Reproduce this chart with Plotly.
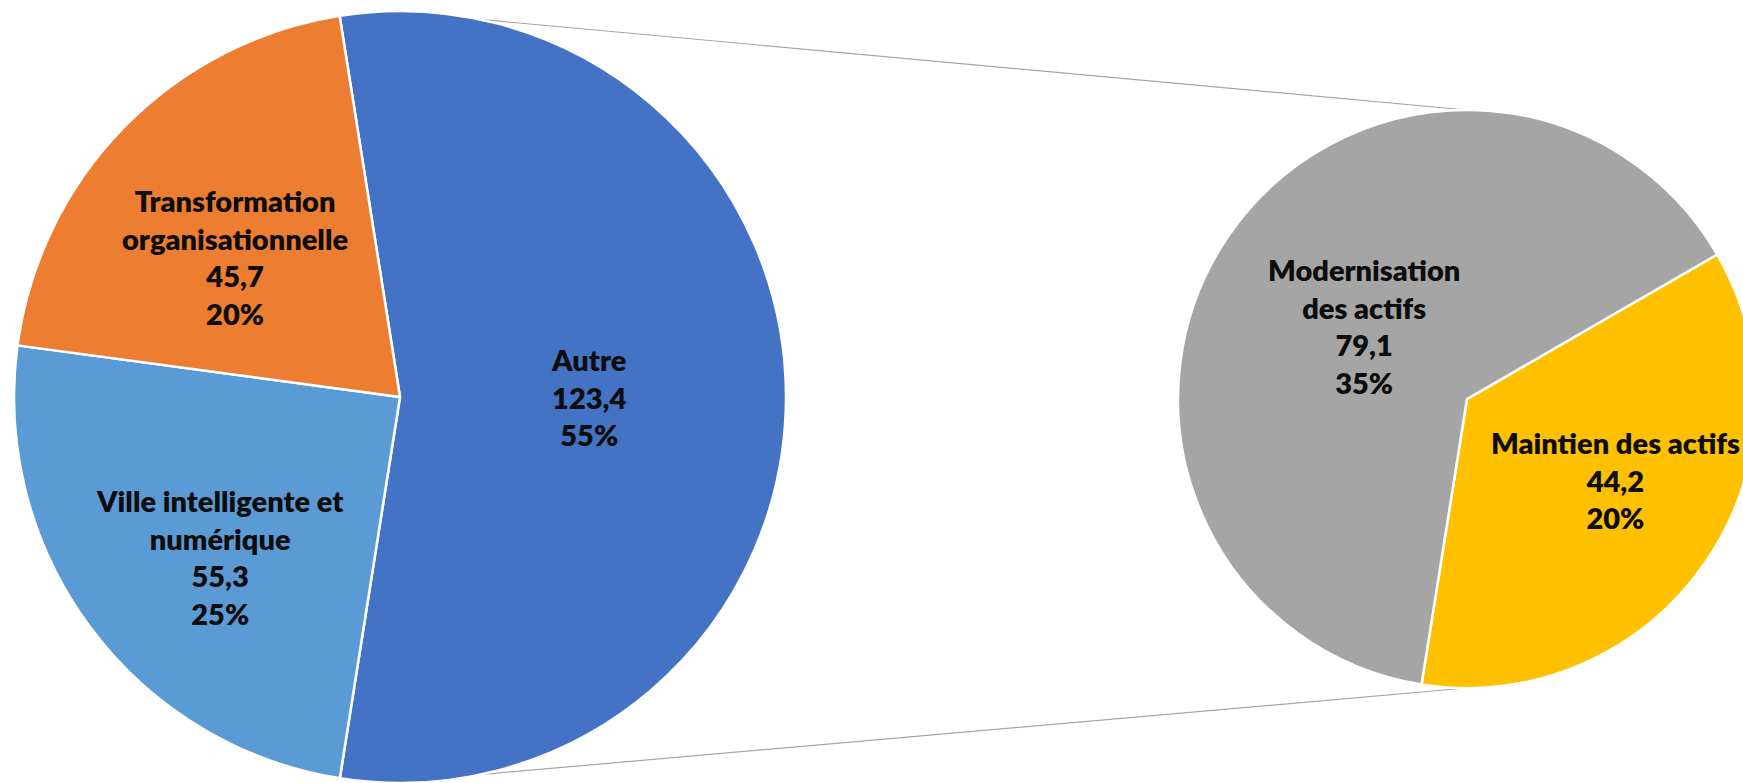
import math
import plotly.graph_objects as go

# ---- data ----
main_labels = ["Autre", "Ville intelligente et<br>numérique", "Transformation<br>organisationnelle"]
main_values = [123.4, 55.3, 45.7]
main_colors = ["#4472C4", "#5B9BD5", "#ED7D31"]

sub_labels = ["Maintien des actifs", "Modernisation<br>des actifs"]
sub_values = [44.2, 79.1]
sub_colors = ["#FFC000", "#A5A5A5"]

total = sum(main_values)

# ---- layout geometry (style) ----
W, H = 1760, 783
L_CX, L_CY, L_R = 400, 397, 386      # pixels, y from top
R_CX, R_CY, R_R = 1467, 399, 289
L_ROT, R_ROT = -9, 60
main_fracs = [0.49, 0.624, 0.562]
main_dang = [0, -5, -4]
sub_fracs = [0.585, 0.436]
sub_dang = [-6, 1]
FONT = "Lato"
FSIZE = 29


def dom(cx, cy, r):
    return dict(x=[(cx - r) / W, (cx + r) / W], y=[(H - cy - r) / H, (H - cy + r) / H])


def fmt(v):
    return f"{v:.1f}".replace(".", ",")


fig = go.Figure()
fig.add_trace(go.Pie(
    labels=main_labels, values=main_values, sort=False, direction="clockwise",
    rotation=L_ROT, domain=dom(L_CX, L_CY, L_R), textinfo="none", hoverinfo="label+value",
    marker=dict(colors=main_colors, line=dict(color="white", width=2.5)), showlegend=False,
))
fig.add_trace(go.Pie(
    labels=sub_labels, values=sub_values, sort=False, direction="clockwise",
    rotation=R_ROT, domain=dom(R_CX, R_CY, R_R), textinfo="none", hoverinfo="label+value",
    marker=dict(colors=sub_colors, line=dict(color="white", width=2.5)), showlegend=False,
))


def px_to_paper(x, y):
    return x / W, 1 - y / H


def add_labels(labels, values, rot, cx, cy, r, fracs, dangs):
    s = sum(values)
    a = rot
    for lab, v, f, d in zip(labels, values, fracs, dangs):
        span = 360 * v / s
        mid = math.radians(a + span / 2 + d)
        a += span
        x = cx + f * r * math.sin(mid)
        y = cy - f * r * math.cos(mid)
        px, py = px_to_paper(x, y)
        pct = round(v / total * 100)
        fig.add_annotation(
            x=px, y=py, xref="paper", yref="paper", showarrow=False,
            xanchor="center", yanchor="middle", align="center",
            text=f"{lab}<br>{fmt(v)}<br>{pct}%",
            font=dict(family=FONT, size=FSIZE, color="#0d0d0d", weight=800),
        )


add_labels(main_labels, main_values, L_ROT, L_CX, L_CY, L_R, main_fracs, main_dang)
add_labels(sub_labels, sub_values, R_ROT, R_CX, R_CY, R_R, sub_fracs, sub_dang)

# connector lines
phi = math.radians(12)
top_start = (L_CX + L_R * math.sin(phi), L_CY - L_R * math.cos(phi))
bot_start = (L_CX + L_R * math.sin(phi), L_CY + L_R * math.cos(phi))
top_end = (R_CX, R_CY - R_R)
bot_end = (R_CX, R_CY + R_R)
for a, b in [(top_start, top_end), (bot_start, bot_end)]:
    x0, y0 = px_to_paper(*a)
    x1, y1 = px_to_paper(*b)
    fig.add_shape(type="line", xref="paper", yref="paper", x0=x0, y0=y0, x1=x1, y1=y1,
                  line=dict(color="#A6A6A6", width=1.2), layer="below")

fig.update_layout(
    width=W, height=H, margin=dict(l=0, r=0, t=0, b=0),
    paper_bgcolor="white", plot_bgcolor="white",
)

fig.write_html("out.html", config={"displayModeBar": False},
               post_script="document.body.style.margin='0';document.body.style.overflow='hidden';")
